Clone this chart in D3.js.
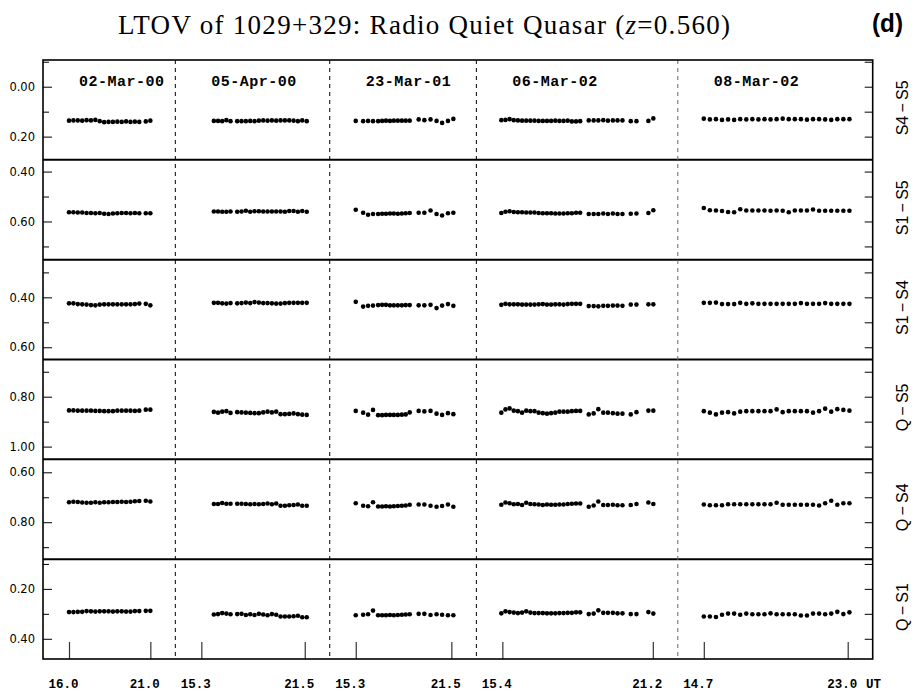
<!DOCTYPE html>
<html lang="en">
<head>
<meta charset="utf-8">
<title>LTOV of 1029+329</title>
<script src="https://cdn.jsdelivr.net/npm/d3@7"></script>
<style>
  body { margin: 0; background: #fff; }
</style>
</head>
<body>
<script>
// observing nights, each one gets its own slice of the time axis
var nights = ["02-Mar-00", "05-Apr-00", "23-Mar-01", "06-Mar-02", "08-Mar-02"];
var tickFirst = [16.0, 15.3, 15.3, 15.4, 14.7];
var tickLast = [21.0, 21.5, 21.5, 21.2, 23.0];

// UT hours of the frames, one list per night
var times = [
  [16.00,16.27,16.54,16.81,17.08, 17.35,17.62,17.89,18.16,18.43, 18.70,18.97,19.24,19.51,19.78, 20.05,20.32,20.72,21.00],
  [16.05,16.30,16.55,16.80,17.05, 17.45,17.71,17.97,18.23,18.49, 18.75,19.01,19.27,19.53,19.79, 20.05,20.31,20.57,20.83,21.09, 21.35,21.62],
  [15.30,15.78,16.10,16.42,16.75, 17.01,17.26,17.52,17.77,18.03, 18.29,18.54,18.80, 19.38,19.75,20.15,20.54,20.90,21.28,21.63],
  [15.36,15.52,15.68,15.84,16.00, 16.16,16.32,16.48,16.64,16.80, 16.96,17.12,17.28,17.44,17.60, 17.76,17.92,18.08,18.24,18.40,
   18.73,18.92,19.10,19.29,19.47, 19.66,19.84,20.03, 20.35,20.57, 21.03,21.22],
  [14.70,15.05,15.40,15.75,16.10, 16.45,16.80,17.15,17.50,17.85, 18.20,18.55,18.90,19.25,19.60, 19.95,20.30,20.65,21.00,21.35, 21.70,22.05,22.40,22.75,23.10]
];

// differential magnitudes, panel by panel, night by night
var dS4S5 = [
  [0.136,0.135,0.135,0.136,0.134, 0.135,0.133,0.138,0.142,0.141, 0.141,0.140,0.141,0.139,0.141, 0.140,0.141,0.139,0.136],
  [0.137,0.137,0.138,0.134,0.138, 0.138,0.138,0.138,0.137,0.138, 0.136,0.135,0.136,0.135,0.136, 0.135,0.135,0.135,0.136,0.138, 0.135,0.138],
  [0.137,0.138,0.137,0.138,0.138, 0.137,0.136,0.137,0.136,0.136, 0.136,0.136,0.136, 0.131,0.134,0.131,0.137,0.145,0.137,0.129],
  [0.134,0.133,0.130,0.134,0.135, 0.136,0.136,0.136,0.136,0.137, 0.137,0.137,0.137,0.136,0.137, 0.137,0.136,0.139,0.139,0.138,
   0.135,0.135,0.135,0.134,0.136, 0.135,0.135,0.135, 0.138,0.138, 0.137,0.127],
  [0.128,0.131,0.130,0.133,0.131, 0.133,0.130,0.131,0.130,0.131, 0.130,0.131,0.130,0.128,0.130, 0.130,0.130,0.132,0.130,0.130, 0.131,0.133,0.130,0.130,0.130]
];
var dS1S5 = [
  [0.563,0.563,0.564,0.564,0.566, 0.566,0.567,0.566,0.569,0.570, 0.568,0.567,0.566,0.566,0.567, 0.566,0.567,0.567,0.567],
  [0.560,0.560,0.561,0.561,0.560, 0.561,0.560,0.557,0.561,0.559, 0.559,0.560,0.560,0.560,0.560, 0.560,0.561,0.558,0.558,0.561, 0.558,0.561],
  [0.553,0.565,0.573,0.570,0.570, 0.569,0.569,0.568,0.568,0.569, 0.568,0.567,0.566, 0.565,0.565,0.556,0.570,0.576,0.567,0.565],
  [0.566,0.561,0.559,0.562,0.563, 0.563,0.564,0.564,0.564,0.566, 0.567,0.567,0.567,0.568,0.568, 0.568,0.567,0.567,0.565,0.565,
   0.570,0.570,0.570,0.568,0.570, 0.568,0.570,0.570, 0.569,0.568, 0.566,0.555],
  [0.546,0.555,0.556,0.558,0.562, 0.563,0.551,0.556,0.556,0.556, 0.556,0.557,0.556,0.557,0.563, 0.556,0.556,0.556,0.552,0.557, 0.557,0.557,0.557,0.557,0.557]
];
var dS1S4 = [
  [0.424,0.424,0.427,0.428,0.429, 0.431,0.432,0.429,0.428,0.428, 0.428,0.428,0.428,0.428,0.428, 0.427,0.425,0.426,0.432],
  [0.422,0.422,0.424,0.425,0.423, 0.424,0.423,0.421,0.423,0.419, 0.421,0.423,0.423,0.424,0.425, 0.425,0.423,0.422,0.422,0.422, 0.422,0.422],
  [0.418,0.437,0.434,0.433,0.431, 0.430,0.430,0.432,0.432,0.432, 0.432,0.431,0.431, 0.432,0.432,0.430,0.443,0.433,0.427,0.434],
  [0.430,0.426,0.428,0.428,0.428, 0.429,0.429,0.429,0.429,0.428, 0.427,0.429,0.429,0.428,0.428, 0.429,0.427,0.426,0.426,0.426,
   0.435,0.435,0.436,0.434,0.434, 0.433,0.433,0.434, 0.429,0.429, 0.428,0.428],
  [0.422,0.422,0.421,0.427,0.427, 0.427,0.422,0.426,0.424,0.426, 0.426,0.426,0.426,0.426,0.426, 0.426,0.423,0.426,0.426,0.426, 0.423,0.426,0.426,0.426,0.426]
];
var dQS5 = [
  [0.855,0.855,0.856,0.856,0.856, 0.856,0.857,0.857,0.858,0.858, 0.858,0.856,0.856,0.856,0.856, 0.857,0.856,0.852,0.852],
  [0.861,0.864,0.860,0.858,0.865, 0.862,0.863,0.864,0.865,0.866, 0.866,0.863,0.860,0.863,0.860, 0.870,0.870,0.869,0.867,0.870, 0.872,0.873],
  [0.857,0.864,0.872,0.853,0.874, 0.874,0.873,0.873,0.873,0.873, 0.872,0.871,0.863, 0.857,0.859,0.857,0.868,0.873,0.866,0.870],
  [0.864,0.851,0.847,0.856,0.858, 0.864,0.856,0.858,0.858,0.864, 0.866,0.868,0.866,0.864,0.860, 0.860,0.860,0.858,0.857,0.857,
   0.871,0.867,0.850,0.864,0.864, 0.866,0.868,0.868, 0.871,0.862, 0.856,0.856],
  [0.858,0.864,0.871,0.864,0.862, 0.867,0.860,0.858,0.858,0.858, 0.858,0.858,0.851,0.862,0.858, 0.858,0.858,0.858,0.864,0.858, 0.848,0.860,0.850,0.853,0.856]
];
var dQS4 = [
  [0.720,0.718,0.719,0.721,0.722, 0.722,0.720,0.722,0.720,0.720, 0.719,0.719,0.718,0.719,0.718, 0.716,0.715,0.714,0.717],
  [0.727,0.727,0.723,0.726,0.726, 0.726,0.726,0.727,0.728,0.727, 0.728,0.727,0.725,0.728,0.725, 0.734,0.734,0.732,0.731,0.729, 0.734,0.734],
  [0.724,0.734,0.736,0.720,0.737, 0.737,0.736,0.737,0.736,0.735, 0.734,0.733,0.730, 0.729,0.729,0.734,0.738,0.735,0.729,0.738],
  [0.730,0.721,0.724,0.728,0.727, 0.731,0.722,0.727,0.728,0.729, 0.731,0.729,0.730,0.730,0.729, 0.729,0.727,0.726,0.725,0.725,
   0.738,0.733,0.717,0.731,0.731, 0.730,0.732,0.732, 0.731,0.727, 0.721,0.727],
  [0.729,0.732,0.732,0.732,0.728, 0.728,0.728,0.728,0.728,0.728, 0.728,0.728,0.722,0.730,0.730, 0.730,0.730,0.730,0.730,0.733, 0.724,0.714,0.730,0.724,0.724]
];
var dQS1 = [
  [0.293,0.293,0.292,0.292,0.289, 0.290,0.291,0.290,0.290,0.290, 0.291,0.290,0.290,0.291,0.291, 0.289,0.289,0.288,0.288],
  [0.303,0.301,0.297,0.299,0.302, 0.301,0.300,0.305,0.302,0.305, 0.300,0.303,0.306,0.301,0.304, 0.311,0.311,0.311,0.310,0.308, 0.314,0.314],
  [0.306,0.304,0.302,0.287,0.306, 0.306,0.306,0.305,0.306,0.305, 0.304,0.303,0.302, 0.300,0.300,0.305,0.302,0.304,0.306,0.306],
  [0.298,0.290,0.293,0.295,0.297, 0.295,0.290,0.295,0.297,0.297, 0.297,0.298,0.298,0.298,0.297, 0.297,0.296,0.296,0.294,0.294,
   0.301,0.299,0.286,0.296,0.296, 0.296,0.298,0.298, 0.301,0.301, 0.293,0.299],
  [0.311,0.311,0.313,0.304,0.299, 0.299,0.304,0.299,0.302,0.302, 0.302,0.298,0.302,0.302,0.302, 0.302,0.307,0.307,0.299,0.299, 0.302,0.299,0.292,0.301,0.294]
];

var panelNames = ["S4\u2009\u2212\u2009S5", "S1\u2009\u2212\u2009S5", "S1\u2009\u2212\u2009S4",
                  "Q\u2009\u2212\u2009S5", "Q\u2009\u2212\u2009S4", "Q\u2009\u2212\u2009S1"];
var panelData = [dS4S5, dS1S5, dS1S4, dQS5, dQS4, dQS1];
var panelDomains = [[-0.107, 0.293], [0.353, 0.753], [0.249, 0.649], [0.651, 1.051], [0.548, 0.948], [0.081, 0.481]];
var majorTicks = [[0.00, 0.20], [0.40, 0.60], [0.40, 0.60], [0.80, 1.00], [0.60, 0.80], [0.20, 0.40]];
var minorTicks = [[-0.10, 0.10], [0.50, 0.70], [0.30, 0.50], [0.70, 0.90], [0.70, 0.90], [0.10, 0.30]];

// layout
var W = 915, H = 697;
var plotL = 43, plotR = 872.7, plotT = 60, plotB = 659;
var segBreaks = [0, 0.1595, 0.3456, 0.5223, 0.7651, 1];
var panelH = (plotB - plotT) / panelNames.length;

var svg = d3.select('body').append('svg').attr('width', W).attr('height', H);

var xEdge = d3.scaleLinear().domain([0, 1]).range([plotL, plotR]);
var segs = nights.map(function (n, i) {
  var l = xEdge(segBreaks[i]), r = xEdge(segBreaks[i + 1]);
  return { l: l, r: r, x: d3.scaleLinear().domain([tickFirst[i], tickLast[i]]).range([l + 26, r - 25]) };
});

panelNames.forEach(function (name, k) {
  var y0 = plotT + k * panelH;
  var ys = d3.scaleLinear().domain(panelDomains[k]).range([y0, y0 + panelH]);
  var g = svg.append('g');

  // left ticks, pointing inwards
  g.append('g')
    .attr('transform', 'translate(' + plotL + ',0)')
    .call(d3.axisLeft(ys).tickValues(majorTicks[k]).tickSize(-9).tickPadding(8).tickFormat(d3.format('.2f')))
    .call(function (a) { a.select('.domain').remove(); })
    .attr('font-family', 'DejaVu Sans').attr('font-size', 11.5);
  g.append('g')
    .attr('transform', 'translate(' + plotL + ',0)')
    .call(d3.axisLeft(ys).tickValues(minorTicks[k]).tickSize(-6).tickFormat(''))
    .call(function (a) { a.select('.domain').remove(); });

  // right ticks
  g.append('g')
    .attr('transform', 'translate(' + plotR + ',0)')
    .call(d3.axisRight(ys).tickValues(majorTicks[k].concat(minorTicks[k])).tickSize(-8).tickFormat(''))
    .call(function (a) { a.select('.domain').remove(); });

  // points
  var pts = [];
  panelData[k].forEach(function (vals, s) {
    vals.forEach(function (v, j) {
      if (times[s][j] !== undefined) pts.push({ s: s, t: times[s][j], v: v });
    });
  });
  g.selectAll('circle').data(pts).join('circle')
    .attr('cx', function (d) { return segs[d.s].x(d.t); })
    .attr('cy', function (d) { return ys(d.v); })
    .attr('r', 2.3)
    .attr('fill', '#000');

  svg.append('text')
    .attr('transform', 'translate(908,' + (y0 + panelH / 2 - 2) + ') rotate(-90)')
    .attr('text-anchor', 'middle')
    .attr('font-family', 'Liberation Sans, Arial, sans-serif')
    .attr('font-size', 16)
    .text(name);

  if (k > 0) {
    svg.append('line')
      .attr('x1', plotL).attr('x2', plotR).attr('y1', y0).attr('y2', y0)
      .attr('stroke', '#000').attr('stroke-width', 2);
  }
});

// night separators
segs.slice(1).forEach(function (s, i) {
  svg.append('line')
    .attr('x1', s.l).attr('x2', s.l).attr('y1', plotT).attr('y2', plotB)
    .attr('stroke', i === 3 ? '#666' : '#000').attr('stroke-width', 1)
    .attr('stroke-dasharray', '4,4');
});

// bottom time axis, one per night
segs.forEach(function (s, i) {
  var ax = svg.append('g')
    .attr('transform', 'translate(0,' + plotB + ')')
    .call(d3.axisBottom(s.x).tickValues([tickFirst[i], tickLast[i]]).tickSize(-17).tickPadding(20).tickFormat(d3.format('.1f')))
    .attr('font-family', 'Liberation Mono, Courier New, monospace')
    .attr('font-size', 12.5).attr('font-weight', 'bold');
  ax.select('.domain').remove();
  ax.selectAll('.tick line').attr('stroke', '#333').attr('stroke-width', 1.2);
  ax.selectAll('.tick text').attr('dx', -6);

  svg.append('text')
    .attr('x', s.l + 36).attr('y', 85.5)
    .attr('font-family', 'Liberation Mono, Courier New, monospace')
    .attr('font-weight', 'bold').attr('font-size', 15)
    .attr('letter-spacing', 0.5)
    .text(nights[i]);
});

svg.append('text')
  .attr('x', 866).attr('y', 688)
  .attr('font-family', 'Liberation Mono, Courier New, monospace')
  .attr('font-weight', 'bold').attr('font-size', 12.5)
  .text('UT');

// frame
svg.append('rect')
  .attr('x', plotL).attr('y', plotT)
  .attr('width', plotR - plotL).attr('height', plotB - plotT)
  .attr('fill', 'none').attr('stroke', '#000').attr('stroke-width', 1.6);

// title
var title = svg.append('text')
  .attr('x', 118).attr('y', 34)
  .attr('font-family', 'Liberation Serif, Times New Roman, serif')
  .attr('font-size', 27)
  .attr('textLength', 612).attr('lengthAdjust', 'spacing');
title.append('tspan').text('LTOV of 1029+329: Radio Quiet Quasar (');
title.append('tspan').attr('font-style', 'italic').text('z');
title.append('tspan').text('=0.560)');

svg.append('text')
  .attr('x', 872).attr('y', 32)
  .attr('font-family', 'Liberation Sans, Arial, sans-serif')
  .attr('font-weight', 'bold').attr('font-size', 26)
  .attr('textLength', 31).attr('lengthAdjust', 'spacingAndGlyphs')
  .text('(d)');
</script>
</body>
</html>
